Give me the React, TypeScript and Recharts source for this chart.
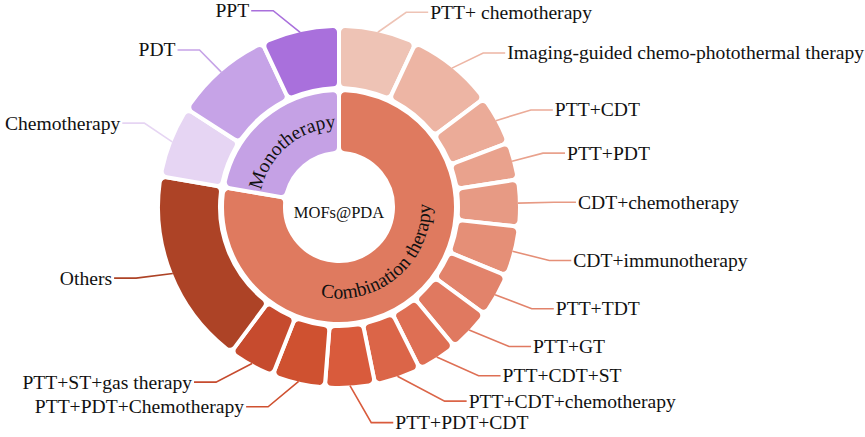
import { PieChart, Pie, Cell } from "recharts";

const innerNames = ["Combination therapy", "Monotherapy"];
const innerColors = ["#df7a5f", "#c5a1e5"];

const combinationNames = [
  "PTT+ chemotherapy",
  "Imaging-guided chemo-photothermal therapy",
  "PTT+CDT",
  "PTT+PDT",
  "CDT+chemotherapy",
  "CDT+immunotherapy",
  "PTT+TDT",
  "PTT+GT",
  "PTT+CDT+ST",
  "PTT+CDT+chemotherapy",
  "PTT+PDT+CDT",
  "PTT+PDT+Chemotherapy",
  "PTT+ST+gas therapy",
  "Others",
];
const combinationValues = [25, 28, 16, 12, 15, 16, 14, 14, 13, 15, 16, 17, 15, 63];
const combinationColors = [
  "#eec3b5",
  "#edb5a4",
  "#ebab98",
  "#e9a28d",
  "#e79a84",
  "#e58f77",
  "#e2836b",
  "#e07960",
  "#de6f54",
  "#db6548",
  "#d95b3c",
  "#cf5130",
  "#c64b2e",
  "#ad4326",
];

const monotherapyNames = ["Chemotherapy", "PDT", "PPT"];
const monotherapyValues = [23, 32, 25];
const monotherapyColors = ["#e6d5f3", "#c6a3e7", "#a970dc"];

// label layout: [angle nudge in degrees, distance of the elbow beyond the ring]
const labelNudge = [
  [-6.5, 27], [-4, 32], [-2, 36], [0, 32], [0, 36], [0, 38], [1.5, 39],
  [4, 41], [6.5, 40], [9.5, 42], [5, 39], [-6.5, 33], [-6, 35], [-2.5, 36],
  [-2, 33], [0.5, 31], [6, 28],
];

const sum = (a: number[]) => a.reduce((s, v) => s + v, 0);

const innerData = [
  { name: innerNames[0], value: sum(combinationValues) },
  { name: innerNames[1], value: sum(monotherapyValues) },
];
const outerNames = [...combinationNames, ...monotherapyNames];
const outerValues = [...combinationValues, ...monotherapyValues];
const outerColors = [...combinationColors, ...monotherapyColors];
const outerData = outerNames.map((name, i) => ({ name, value: outerValues[i] }));

const FONT = "'Liberation Serif', 'Times New Roman', serif";
const RAD = Math.PI / 180;
const OUTER_EDGE = 179;

const polar = (cx: number, cy: number, r: number, a: number) => ({
  x: cx + r * Math.cos(a * RAD),
  y: cy - r * Math.sin(a * RAD),
});

function InnerLabel(props: any) {
  const { cx, cy, midAngle, index, innerRadius, outerRadius } = props;
  const mid = (innerRadius + outerRadius) / 2;
  const isMono = index === 1;
  const r = isMono ? mid - 6 : mid + 6;
  const span = 85;
  const a1 = isMono ? midAngle + span : midAngle - span;
  const a2 = isMono ? midAngle - span : midAngle + span;
  const p1 = polar(cx, cy, r, a1);
  const p2 = polar(cx, cy, r, a2);
  const d = `M ${p1.x} ${p1.y} A ${r} ${r} 0 0 ${isMono ? 1 : 0} ${p2.x} ${p2.y}`;
  const id = `inner-arc-${index}`;
  return (
    <g>
      <path id={id} d={d} fill="none" stroke="none" />
      <text fontSize={19.5} fill="#111" fontFamily={FONT}>
        <textPath href={`#${id}`} startOffset="50%" textAnchor="middle">
          {innerNames[index]}
        </textPath>
      </text>
      {index === 0 && (
        <text
          x={cx}
          y={cy + 5}
          textAnchor="middle"
          dominantBaseline="central"
          fontSize={16.5}
          fill="#111"
          fontFamily={FONT}
        >
          MOFs@PDA
        </text>
      )}
    </g>
  );
}

function OuterLabel(props: any) {
  const { cx, cy, midAngle, index } = props;
  const [dA, dR] = labelNudge[index];
  const start = polar(cx, cy, OUTER_EDGE, midAngle);
  const elbow = polar(cx, cy, OUTER_EDGE + dR, midAngle + dA);
  const right = elbow.x >= cx;
  const endX = elbow.x + (right ? 22 : -22);
  return (
    <g>
      <polyline
        points={`${start.x},${start.y} ${elbow.x},${elbow.y} ${endX},${elbow.y}`}
        fill="none"
        stroke={outerColors[index]}
        strokeWidth={1.6}
      />
      <text
        x={endX + (right ? 2 : -2)}
        y={elbow.y}
        textAnchor={right ? "start" : "end"}
        dominantBaseline="central"
        fontSize={19.6}
        fill="#111"
        fontFamily={FONT}
      >
        {outerNames[index]}
      </text>
    </g>
  );
}

export default function App() {
  return (
    <div style={{ position: "absolute", left: 0, top: 0, width: 865, height: 437 }}>
      <PieChart width={865} height={437} margin={{ top: 0, right: 0, bottom: 0, left: 0 }}>
        <Pie
          data={innerData}
          dataKey="value"
          cx={339}
          cy={207}
          innerRadius={54}
          outerRadius={117}
          startAngle={90}
          endAngle={-270}
          cornerRadius={6}
          stroke="#ffffff"
          strokeWidth={4}
          label={InnerLabel}
          labelLine={false}
          isAnimationActive={false}
        >
          {innerData.map((d, i) => (
            <Cell key={d.name} fill={innerColors[i]} stroke="#ffffff" strokeWidth={4} />
          ))}
        </Pie>
        <Pie
          data={outerData}
          dataKey="value"
          cx={339}
          cy={207}
          innerRadius={119}
          outerRadius={181}
          startAngle={90}
          endAngle={-270}
          cornerRadius={6}
          stroke="#ffffff"
          strokeWidth={4}
          label={OuterLabel}
          labelLine={false}
          isAnimationActive={false}
        >
          {outerData.map((d, i) => (
            <Cell key={d.name} fill={outerColors[i]} stroke="#ffffff" strokeWidth={4} />
          ))}
        </Pie>
      </PieChart>
    </div>
  );
}
